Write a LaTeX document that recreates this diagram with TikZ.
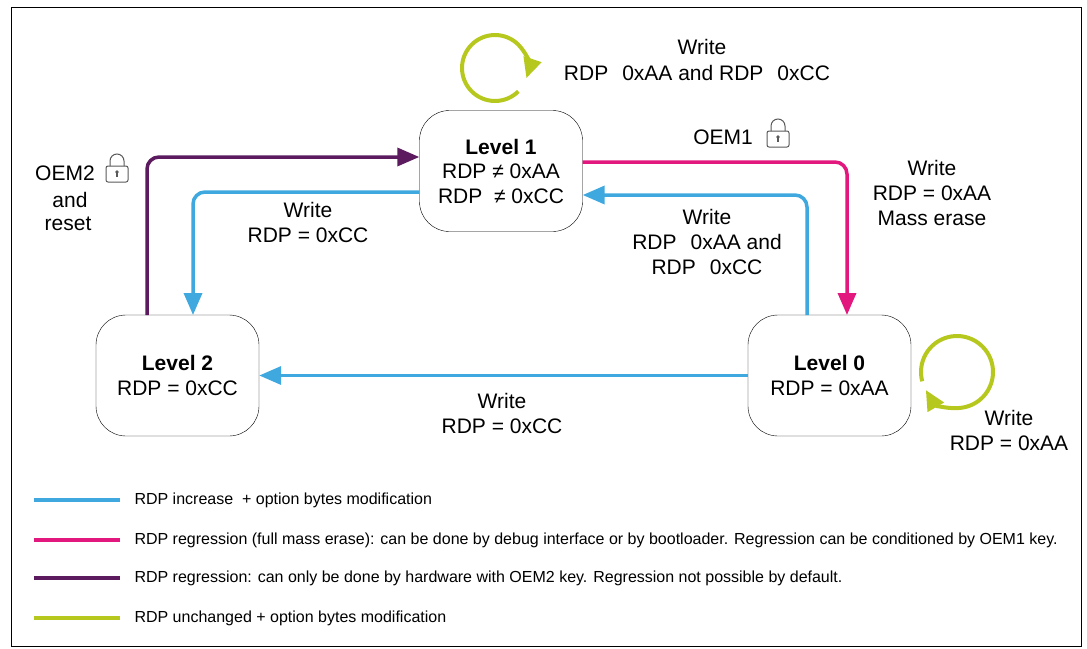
\documentclass[tikz,border=0pt]{standalone}
\usepackage{fontspec}
\setmainfont{Liberation Sans}
\usetikzlibrary{arrows.meta,positioning}
\definecolor{rdpblue}{HTML}{3FA9DF}
\definecolor{rdpmag}{HTML}{E2187E}
\definecolor{rdppurple}{HTML}{5B1B5E}
\definecolor{rdpgreen}{HTML}{B6C81E}
\tikzset{
  level/.style={draw,rounded corners=30pt,minimum width=163pt,minimum height=121pt,align=center,font=\fontsize{21}{24.5}\selectfont},
  lbl/.style={align=center,font=\fontsize{21}{25}\selectfont},
  leg/.style={anchor=west,font=\fontsize{16}{18}\selectfont},
  tr/.style={line width=3.5pt,rounded corners=12pt,-{Triangle[length=22pt,width=18pt]}},
}
\newcommand{\oemlock}[1]{%
  \begin{scope}[shift={(#1)},gray!70!black]
  \draw[line width=1pt] (-7,-2) -- (-7,-7) arc (180:360:7) -- (7,-2);
  \draw[line width=1pt,rounded corners=2pt] (-11,-2) rectangle (11,14);
  \fill (0,4) circle (1.8pt);
  \draw[line width=1.2pt] (0,4) -- (0,9);
  \end{scope}
}
\newcommand{\gapsp}{\hspace{14pt}}
\begin{document}
\begin{tikzpicture}[x=1pt,y=-1pt]
\useasboundingbox (0,0) rectangle (1087,648);
\draw[line width=1pt] (11,7) rectangle (1081,646);

\node[level] (L1) at (501,171) {\textbf{Level 1}\\RDP ≠ 0xAA\\RDP \ ≠ 0xCC};
\node[level] (L2) at (177.5,375.5) {\textbf{Level 2}\\RDP = 0xCC};
\node[level] (L0) at (829.5,375.5) {\textbf{Level 0}\\RDP = 0xAA};

\coordinate (p2) at (147,315);
\coordinate (b1) at (807,315);
\draw[tr,rdppurple] (p2) |- ([yshift=14]L1.west);
\draw[tr,rdpblue] ([yshift=-21]L1.west) -| (193,315);
\draw[tr,rdpmag] ([yshift=9]L1.east) -| (847,315);
\draw[tr,rdpblue] (b1) |- ([yshift=-24]L1.east);
\draw[tr,rdpblue] (L0.west) -- (L2.east);

\draw[line width=4pt,rdpgreen,-{Triangle[length=20pt,width=18pt]}] (495,68) ++(45:33) arc (45:378:33);
\draw[line width=4pt,rdpgreen,-{Triangle[length=20pt,width=18pt]}] (957,372) ++(-195:36) arc (-195:150:36);

\node[lbl] (t1) at (702,47) {Write};
\node[lbl] (t2) at (697,73) {RDP\gapsp 0xAA and RDP\gapsp 0xCC};
\node[lbl] (t3) at (723,137) {OEM1};
\node[lbl] (t4) at (65,173) {OEM2};
\node[lbl] (t5) at (70,200) {and};
\node[lbl] (t6) at (68,224) {reset};
\node[lbl] (t7) at (308,222) {Write\\RDP = 0xCC};
\node[lbl] (t8) at (707,242) {Write\\RDP\gapsp 0xAA and\\RDP\gapsp 0xCC};
\node[lbl] (t9) at (932,193) {Write\\RDP = 0xAA\\Mass erase};
\node[lbl] (t10) at (502,413) {Write\\RDP = 0xCC};
\node[lbl] (t11) at (1009,430) {Write\\RDP = 0xAA};
\oemlock{778,133}
\oemlock{117,168}

\foreach \y/\c/\t in {500/rdpblue/{RDP increase\ \ + option bytes modification},
  540/rdpmag/{RDP regression (full mass erase): can be done by debug interface or by bootloader. Regression can be conditioned by OEM1 key.},
  578/rdppurple/{RDP regression: can only be done by hardware with OEM2 key. Regression not possible by default.},
  618/rdpgreen/{RDP unchanged + option bytes modification}}{
  \draw[line width=4.5pt,\c] (34,\y) -- (120,\y);
  \node[leg] at (131,\y) {\t};
}
\end{tikzpicture}
\end{document}
